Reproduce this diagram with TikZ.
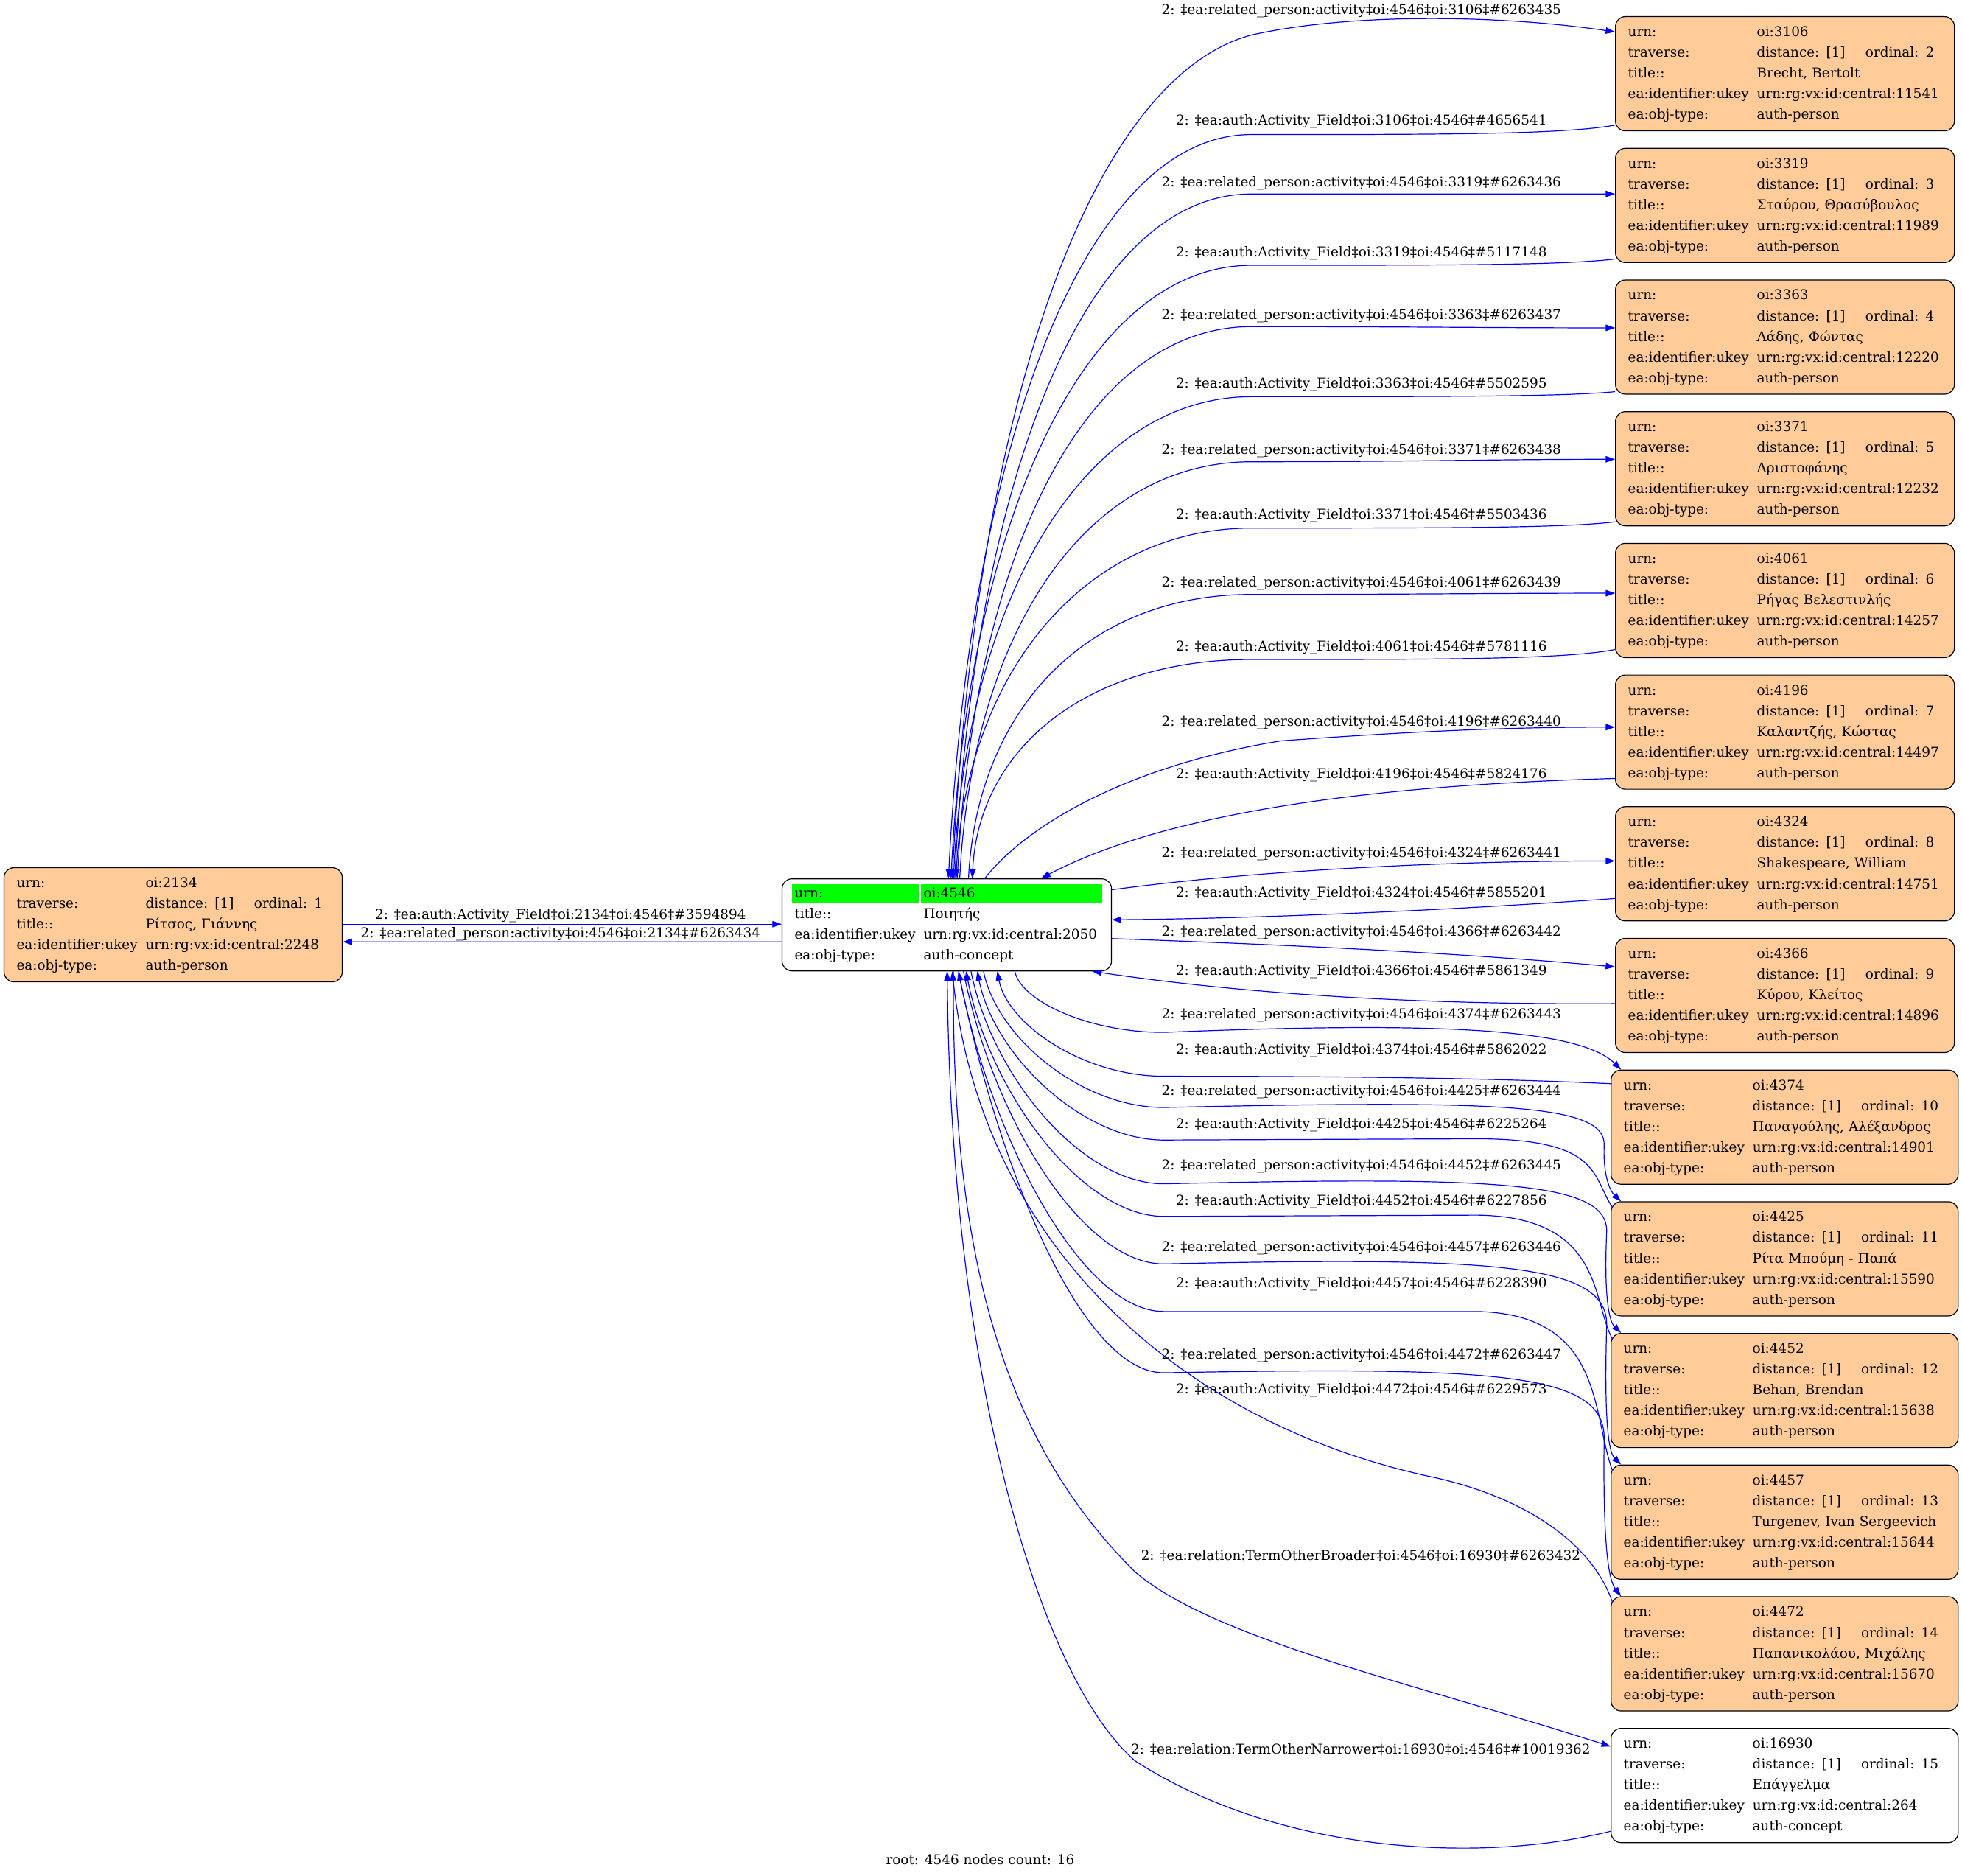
\documentclass[tikz,border=0pt]{standalone}
\usepackage{fontspec}
\setmainfont{DejaVu Serif}
\usetikzlibrary{arrows.meta,calc,backgrounds}
\definecolor{peach}{HTML}{FFCC99}
\definecolor{edgeblue}{HTML}{0000FF}
\definecolor{hlgreen}{HTML}{00FF00}
\newcommand\kv[2]{\noindent\strut\makebox[131.25pt][l]{#1}#2}
\newcommand\recnode[8]{\node[rec,#3] (#1) at (#2) {\kv{urn:}{oi:#4}\\\kv{traverse:}{\makebox[110.5pt][l]{distance: [1]}ordinal: #5}\\\kv{title::}{#6}\\\kv{ea:identifier:ukey}{urn:rg:vx:id:central:#7}\\\kv{ea:obj-type:}{#8}};}
\begin{document}
\begin{tikzpicture}[x=1.2737pt,y=-1.2737pt,
  rec/.style={draw=black,line width=0.9pt,rounded corners=10pt,anchor=north west,inner xsep=12.75pt,inner ysep=0pt,align=left,font=\fontsize{13.8pt}{21.06pt}\selectfont,minimum height=116.25pt},
  lbl/.style={font=\fontsize{13.8pt}{16pt}\selectfont,inner sep=0pt,anchor=base},
  conn/.style={draw=edgeblue,line width=0.9pt,-{Triangle[length=9.5pt,width=6.5pt]}}]
\useasboundingbox (0,0) rectangle (1568,1499);

% ---------- nodes ----------
\recnode{n2134}{2.9,693}{fill=peach,text width=318.75pt}{2134}{1}{Ρίτσος, Γιάννης}{2248}{auth-person}
\node[rec,fill=none,text width=309.75pt,minimum height=93.75pt] (c) at (624.7,701.9)
  {\kv{urn:}{oi:4546}\\\kv{title::}{Ποιητής}\\\kv{ea:identifier:ukey}{urn:rg:vx:id:central:2050}\\\kv{ea:obj-type:}{auth-concept}};
\begin{scope}[on background layer]
\fill[hlgreen] ($(c.north west)+(8.3,4.7)$) rectangle ($(c.north west)+(109.6,19.4)$);
\fill[hlgreen] ($(c.north west)+(111.3,4.7)$) rectangle ($(c.north west)+(256.2,19.4)$);
\end{scope}

\recnode{n3106}{1290.7,12.95}{fill=peach,text width=319.5pt}{3106}{2}{Brecht, Bertolt}{11541}{auth-person}
\recnode{n3319}{1290.7,118.17}{fill=peach,text width=319.5pt}{3319}{3}{Σταύρου, Θρασύβουλος}{11989}{auth-person}
\recnode{n3363}{1290.7,223.39}{fill=peach,text width=319.5pt}{3363}{4}{Λάδης, Φώντας}{12220}{auth-person}
\recnode{n3371}{1290.7,328.61}{fill=peach,text width=319.5pt}{3371}{5}{Αριστοφάνης}{12232}{auth-person}
\recnode{n4061}{1290.7,433.83}{fill=peach,text width=319.5pt}{4061}{6}{Ρήγας Βελεστινλής}{14257}{auth-person}
\recnode{n4196}{1290.7,539.05}{fill=peach,text width=319.5pt}{4196}{7}{Καλαντζής, Κώστας}{14497}{auth-person}
\recnode{n4324}{1290.7,644.27}{fill=peach,text width=319.5pt}{4324}{8}{Shakespeare, William}{14751}{auth-person}
\recnode{n4366}{1290.7,749.49}{fill=peach,text width=319.5pt}{4366}{9}{Κύρου, Κλείτος}{14896}{auth-person}
\recnode{n4374}{1287.2,854.71}{fill=peach,text width=327.75pt}{4374}{10}{Παναγούλης, Αλέξανδρος}{14901}{auth-person}
\recnode{n4425}{1287.2,959.93}{fill=peach,text width=327.75pt}{4425}{11}{Ρίτα Μπούμη - Παπά}{15590}{auth-person}
\recnode{n4452}{1287.2,1065.15}{fill=peach,text width=327.75pt}{4452}{12}{Behan, Brendan}{15638}{auth-person}
\recnode{n4457}{1287.2,1170.37}{fill=peach,text width=327.75pt}{4457}{13}{Turgenev, Ivan Sergeevich}{15644}{auth-person}
\recnode{n4472}{1287.2,1275.59}{fill=peach,text width=327.75pt}{4472}{14}{Παπανικολάου, Μιχάλης}{15670}{auth-person}
\recnode{n16930}{1287.2,1380.81}{fill=white,text width=327.75pt}{16930}{15}{Επάγγελμα}{264}{auth-concept}

% ---------- left edges ----------
\draw[conn] ($(n2134.north east)+(0,45.5)$) -- ($(c.north west)+(0,36.6)$);
\draw[conn] ($(c.north west)+(0,50.7)$) -- ($(n2134.north east)+(0,59.6)$);
\node[lbl] (l2134a) at (448,734.5) {2: ‡ea:auth:Activity\_Field‡oi:2134‡oi:4546‡\#3594894};
\node[lbl] (l2134r) at (448,749) {2: ‡ea:related\_person:activity‡oi:4546‡oi:2134‡\#6263434};

% ---------- upper related edges ----------
\draw[conn] ($(c.north west)+(136.3,0)$) .. controls (781,298) and (880,60) .. (1000,28) .. controls (1080,10) and (1200,12) .. ($(n3106.north west)+(0,12.55)$);
\draw[conn] ($(c.north west)+(138.3,0)$) .. controls (779.5,373) and (870,155) .. (1000,155) .. controls (1130,155) and (1190,155) .. ($(n3319.north west)+(0,36.8)$);
\draw[conn] ($(c.north west)+(140.3,0)$) .. controls (778.3,436) and (870,261) .. (1000,261) .. controls (1130,261) and (1190,262) .. ($(n3363.north west)+(0,38.6)$);
\draw[conn] ($(c.north west)+(142.3,0)$) .. controls (777,501) and (870,369) .. (1000,369) .. controls (1130,369) and (1190,367) .. ($(n3371.north west)+(0,38.4)$);
\draw[conn] ($(c.north west)+(149.3,0)$) .. controls (780.9,565) and (870,475) .. (1000,475) .. controls (1130,475) and (1190,474) .. ($(n4061.north west)+(0,40.2)$);
\draw[conn] ($(c.north west)+(162.3,0)$) .. controls (820,660) and (900,612) .. (1024,592) .. controls (1120,585) and (1200,581) .. ($(n4196.north west)+(0,42)$);

% ---------- upper activity-field edges ----------
\draw[conn] ($(n3106.north west)+(0,87)$) .. controls (1250,107.5) and (1150,107.5) .. (1000,107.5) .. controls (870,107.5) and (775.8,345) .. ($(c.north west)+(133.3,0)$);
\draw[conn] ($(n3319.north west)+(0,88.8)$) .. controls (1250,212) and (1150,212) .. (1000,212) .. controls (870,212) and (774.7,408) .. ($(c.north west)+(135.3,0)$);
\draw[conn] ($(n3363.north west)+(0,89.6)$) .. controls (1250,317) and (1150,317) .. (1000,317) .. controls (870,317) and (773.6,471) .. ($(c.north west)+(137.3,0)$);
\draw[conn] ($(n3371.north west)+(0,88.4)$) .. controls (1250,422) and (1150,422) .. (1000,422) .. controls (870,422) and (772.4,534) .. ($(c.north west)+(139.3,0)$);
\draw[conn] ($(n4061.north west)+(0,85.2)$) .. controls (1250,527) and (1150,527) .. (1000,527) .. controls (870,527) and (782.3,597) .. ($(c.north west)+(152.3,0)$);
\draw[conn] ($(n4196.north west)+(0,83)$) .. controls (1150,626) and (950,640) .. ($(c.north west)+(207.3,0)$);

% ---------- middle edges ----------
\draw[conn] ($(c.north east)+(0,9.1)$) .. controls (1000,696) and (1150,688) .. ($(n4324.north west)+(0,43.7)$);
\draw[conn] ($(n4324.north west)+(0,73.7)$) .. controls (1150,728) and (1000,734) .. ($(c.north east)+(0,33.1)$);
\draw[conn] ($(c.north east)+(0,48.1)$) .. controls (1000,754) and (1150,760) .. ($(n4366.north west)+(0,23.1)$);
\draw[conn] ($(n4366.north west)+(0,52.5)$) .. controls (1140,803) and (1000,795) .. ($(c.south west)+(248.3,0)$);

% ---------- lower related edges ----------
\draw[conn] ($(c.south west)+(186.3,0)$) .. controls (816,800) and (870,825) .. (930,825) .. controls (1150,816) and (1262,822) .. ($(n4374.north west)+(8.3,0)$);
\draw[conn] ($(c.south west)+(161.3,0)$) .. controls (797,830) and (865,885) .. (930,885) .. controls (1200,879) and (1283,882) .. (1282,915) .. controls (1281,940) and (1287,952) .. ($(n4425.north west)+(8.3,0)$);
\draw[conn] ($(c.south west)+(151.3,0)$) .. controls (793,861) and (865,946) .. (930,946) .. controls (1200,940) and (1286,944) .. (1284,985) .. controls (1282,1030) and (1285,1055) .. ($(n4452.north west)+(8.3,0)$);
\draw[conn] ($(c.south west)+(145.3,0)$) .. controls (793,893) and (865,1010) .. (930,1010) .. controls (1200,1004) and (1286,1010) .. (1284,1060) .. controls (1282,1130) and (1285,1160) .. ($(n4457.north west)+(8.3,0)$);
\draw[conn] ($(c.south west)+(141.3,0)$) .. controls (798,936) and (865,1097) .. (930,1097) .. controls (1200,1092) and (1283,1097) .. (1282,1150) .. controls (1281,1230) and (1285,1262) .. ($(n4472.north west)+(8.3,0)$);

% ---------- lower activity-field edges ----------
\draw[conn] ($(n4374.north west)+(0.8,11.3)$) .. controls (1200,862) and (1100,860) .. (930,860) .. controls (865,860) and (805,818) .. ($(c.south west)+(172.3,0)$);
\draw[conn] ($(n4425.north west)+(1.5,5)$) .. controls (1272,940) and (1280,910) .. (1180,910) -- (930,911) .. controls (865,911) and (794.5,843.5) .. ($(c.south west)+(156.3,0)$);
\draw[conn] ($(n4452.north west)+(1.5,5)$) .. controls (1272,1040) and (1282,972) .. (1180,971) -- (930,972) .. controls (865,972) and (791.6,874) .. ($(c.south west)+(147.3,0)$);
\draw[conn] ($(n4457.north west)+(1.5,5)$) .. controls (1272,1130) and (1282,1050) .. (1180,1048) -- (930,1048) .. controls (865,1048) and (793,912) .. ($(c.south west)+(141.3,0)$);
\draw[conn] ($(n4472.north west)+(1.5,5)$) .. controls (1275,1240) and (1230,1200) .. (1148,1181) .. controls (950,1140) and (785,1000) .. ($(c.south west)+(136.3,0)$);

% ---------- relation edges ----------
\draw[conn] ($(c.south west)+(137.3,0)$) .. controls (760,1000) and (800,1150) .. (907,1256) .. controls (970,1310) and (1130,1345) .. ($(n16930.north west)+(0,14.8)$);
\draw[conn] ($(n16930.north west)+(0,82.5)$) .. controls (1180,1490) and (1020,1480) .. (907,1407) .. controls (830,1340) and (760,1100) .. ($(c.south west)+(132.3,0)$);

% ---------- edge labels ----------
\node[lbl] (lr3106) at (1088,11.5) {2: ‡ea:related\_person:activity‡oi:4546‡oi:3106‡\#6263435};
\node[lbl] (la3106) at (1088,100) {2: ‡ea:auth:Activity\_Field‡oi:3106‡oi:4546‡\#4656541};
\node[lbl] (lr3319) at (1088,149) {2: ‡ea:related\_person:activity‡oi:4546‡oi:3319‡\#6263436};
\node[lbl] (la3319) at (1088,205) {2: ‡ea:auth:Activity\_Field‡oi:3319‡oi:4546‡\#5117148};
\node[lbl] (lr3363) at (1088,255) {2: ‡ea:related\_person:activity‡oi:4546‡oi:3363‡\#6263437};
\node[lbl] (la3363) at (1088,310) {2: ‡ea:auth:Activity\_Field‡oi:3363‡oi:4546‡\#5502595};
\node[lbl] (lr3371) at (1088,363) {2: ‡ea:related\_person:activity‡oi:4546‡oi:3371‡\#6263438};
\node[lbl] (la3371) at (1088,415) {2: ‡ea:auth:Activity\_Field‡oi:3371‡oi:4546‡\#5503436};
\node[lbl] (lr4061) at (1088,469) {2: ‡ea:related\_person:activity‡oi:4546‡oi:4061‡\#6263439};
\node[lbl] (la4061) at (1088,520) {2: ‡ea:auth:Activity\_Field‡oi:4061‡oi:4546‡\#5781116};
\node[lbl] (lr4196) at (1088,580) {2: ‡ea:related\_person:activity‡oi:4546‡oi:4196‡\#6263440};
\node[lbl] (la4196) at (1088,622) {2: ‡ea:auth:Activity\_Field‡oi:4196‡oi:4546‡\#5824176};
\node[lbl] (lr4324) at (1088,685) {2: ‡ea:related\_person:activity‡oi:4546‡oi:4324‡\#6263441};
\node[lbl] (la4324) at (1088,717) {2: ‡ea:auth:Activity\_Field‡oi:4324‡oi:4546‡\#5855201};
\node[lbl] (lr4366) at (1088,748) {2: ‡ea:related\_person:activity‡oi:4546‡oi:4366‡\#6263442};
\node[lbl] (la4366) at (1088,779) {2: ‡ea:auth:Activity\_Field‡oi:4366‡oi:4546‡\#5861349};
\node[lbl] (lr4374) at (1088,814) {2: ‡ea:related\_person:activity‡oi:4546‡oi:4374‡\#6263443};
\node[lbl] (la4374) at (1088,842.5) {2: ‡ea:auth:Activity\_Field‡oi:4374‡oi:4546‡\#5862022};
\node[lbl] (lr4425) at (1088,875.5) {2: ‡ea:related\_person:activity‡oi:4546‡oi:4425‡\#6263444};
\node[lbl] (la4425) at (1088,902) {2: ‡ea:auth:Activity\_Field‡oi:4425‡oi:4546‡\#6225264};
\node[lbl] (lr4452) at (1088,935) {2: ‡ea:related\_person:activity‡oi:4546‡oi:4452‡\#6263445};
\node[lbl] (la4452) at (1088,963) {2: ‡ea:auth:Activity\_Field‡oi:4452‡oi:4546‡\#6227856};
\node[lbl] (lr4457) at (1088,1000) {2: ‡ea:related\_person:activity‡oi:4546‡oi:4457‡\#6263446};
\node[lbl] (la4457) at (1088,1029) {2: ‡ea:auth:Activity\_Field‡oi:4457‡oi:4546‡\#6228390};
\node[lbl] (lr4472) at (1088,1086) {2: ‡ea:related\_person:activity‡oi:4546‡oi:4472‡\#6263447};
\node[lbl] (la4472) at (1088,1114) {2: ‡ea:auth:Activity\_Field‡oi:4472‡oi:4546‡\#6229573};
\node[lbl] (lbroad) at (1087.5,1247) {2: ‡ea:relation:TermOtherBroader‡oi:4546‡oi:16930‡\#6263432};
\node[lbl] (lnarrow) at (1087.5,1401.5) {2: ‡ea:relation:TermOtherNarrower‡oi:16930‡oi:4546‡\#10019362};

\node[lbl] (foot) at (783.4,1490) {root: 4546 nodes count: 16};
\end{tikzpicture}
\end{document}
